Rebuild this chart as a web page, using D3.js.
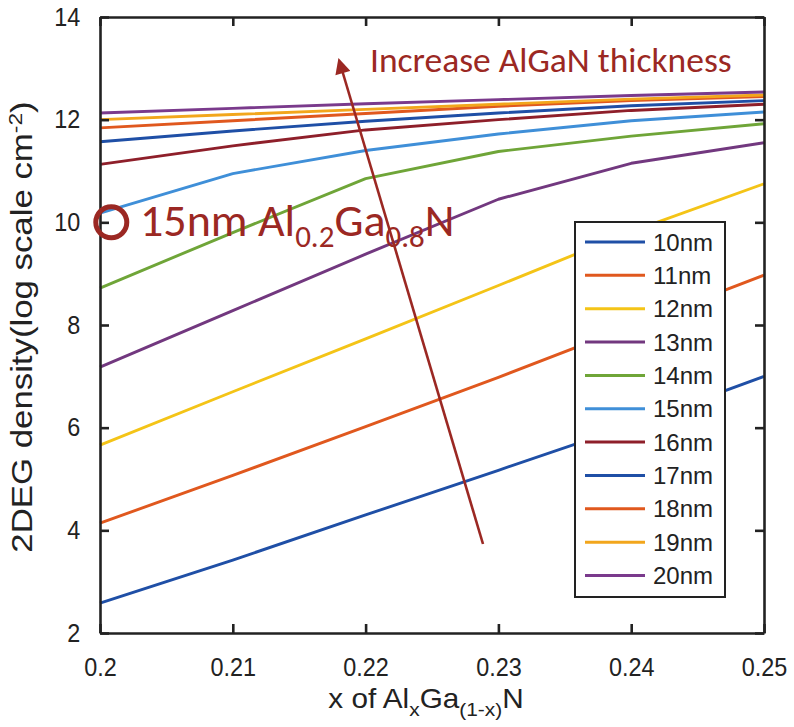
<!DOCTYPE html>
<html>
<head>
<meta charset="utf-8">
<script src="https://cdn.jsdelivr.net/npm/d3@7"></script>
<style>
  html, body { margin: 0; padding: 0; background: #fff; }
  svg { display: block; }
</style>
</head>
<body>
<svg id="chart" width="794" height="727"></svg>
<script>
// Al mole fraction x of the AlGaN barrier
const xValues = [0.20, 0.21, 0.22, 0.23, 0.24, 0.25];

// 2DEG density (log scale) for each barrier thickness
const n10 = [2.58, 3.42, 4.30, 5.17, 6.05, 7.00];
const n11 = [4.14, 5.07, 6.02, 6.98, 7.98, 8.97];
const n12 = [5.66, 6.70, 7.73, 8.77, 9.82, 10.75];
const n13 = [7.18, 8.28, 9.38, 10.45, 11.15, 11.55];
const n14 = [8.72, 9.80, 10.85, 11.38, 11.68, 11.92];
const n15 = [10.18, 10.95, 11.40, 11.72, 11.98, 12.15];
const n16 = [11.13, 11.49, 11.80, 12.00, 12.18, 12.30];
const n17 = [11.57, 11.78, 11.97, 12.13, 12.27, 12.37];
const n18 = [11.84, 11.98, 12.12, 12.26, 12.37, 12.45];
const n19 = [12.00, 12.10, 12.20, 12.30, 12.40, 12.48];
const n20 = [12.13, 12.22, 12.31, 12.39, 12.47, 12.54];

const seriesNames = ["10nm", "11nm", "12nm", "13nm", "14nm", "15nm", "16nm", "17nm", "18nm", "19nm", "20nm"];
const seriesValues = [n10, n11, n12, n13, n14, n15, n16, n17, n18, n19, n20];
const seriesColors = ["#1f4fa6", "#e0581e", "#f4c417", "#72387f", "#6fa538", "#3f8fd8",
                      "#8e1f2a", "#1f4fa6", "#e0581e", "#f2a61c", "#7a3a8c"];

const xTicks = [0.20, 0.21, 0.22, 0.23, 0.24, 0.25];
const xTickLabels = ["0.2", "0.21", "0.22", "0.23", "0.24", "0.25"];
const yTicks = [2, 4, 6, 8, 10, 12, 14];

const svg = d3.select("#chart");
const plot = { left: 100, right: 764, top: 17, bottom: 633 };

const x = d3.scaleLinear().domain([0.20, 0.25]).range([plot.left, plot.right]);
const y = d3.scaleLinear().domain([2, 14]).range([plot.bottom, plot.top]);

svg.append("rect").attr("width", 794).attr("height", 727).attr("fill", "#fff");

// data lines
const line = d3.line().x((d, i) => x(xValues[i])).y(d => y(d));
svg.append("g").selectAll("path")
  .data(seriesValues)
  .join("path")
  .attr("d", d => line(d))
  .attr("fill", "none")
  .attr("stroke", (d, i) => seriesColors[i])
  .attr("stroke-width", 2.9)
  .attr("stroke-linejoin", "round");

// boxed axes with inward ticks
const axisFont = "'Liberation Sans', Arial, sans-serif";
const tickLen = 9;
function styleAxis(g) {
  g.selectAll(".domain").attr("stroke", "#222").attr("stroke-width", 2.6);
  g.selectAll(".tick line").attr("stroke", "#222").attr("stroke-width", 2.6);
  g.selectAll("text").attr("fill", "#222").style("font-family", axisFont);
}

svg.append("g")
  .attr("transform", `translate(0,${plot.bottom})`)
  .call(d3.axisBottom(x).tickValues(xTicks).tickSizeInner(-tickLen).tickSizeOuter(0)
        .tickPadding(25).tickFormat((d, i) => xTickLabels[i]))
  .call(styleAxis)
  .call(g => g.selectAll("text").style("font-size", "26px").attr("transform", "scale(0.9,1)"));

svg.append("g")
  .attr("transform", `translate(0,${plot.top})`)
  .call(d3.axisTop(x).tickValues(xTicks).tickSizeInner(-tickLen).tickSizeOuter(0).tickFormat(""))
  .call(styleAxis);

svg.append("g")
  .attr("transform", `translate(${plot.left},0)`)
  .call(d3.axisLeft(y).tickValues(yTicks).tickSizeInner(-tickLen).tickSizeOuter(0)
        .tickPadding(22).tickFormat(d3.format("d")))
  .call(styleAxis)
  .call(g => g.selectAll("text").style("font-size", "26px").attr("transform", "scale(0.9,1)"));

svg.append("g")
  .attr("transform", `translate(${plot.right},0)`)
  .call(d3.axisRight(y).tickValues(yTicks).tickSizeInner(-tickLen).tickSizeOuter(0).tickFormat(""))
  .call(styleAxis);

// axis titles
const xTitle = svg.append("text")
  .attr("transform", "translate(426,708) scale(1.1,1)")
  .attr("text-anchor", "middle")
  .style("font-family", axisFont).style("font-size", "27px").attr("fill", "#222");
xTitle.append("tspan").text("x of Al");
xTitle.append("tspan").attr("dy", 8).style("font-size", "19px").text("x");
xTitle.append("tspan").attr("dy", -8).text("Ga");
xTitle.append("tspan").attr("dy", 8).style("font-size", "19px").text("(1-x)");
xTitle.append("tspan").attr("dy", -8).text("N");

const yTitle = svg.append("text")
  .attr("transform", "translate(32,327) rotate(-90) scale(1.2,1)")
  .attr("text-anchor", "middle")
  .style("font-family", axisFont).style("font-size", "29px").attr("fill", "#222");
yTitle.append("tspan").text("2DEG density(log scale cm");
yTitle.append("tspan").attr("dy", -10).style("font-size", "19px").text("-2");
yTitle.append("tspan").attr("dy", 10).text(")");

// legend
const legend = svg.append("g");
legend.append("rect")
  .attr("x", 575).attr("y", 222).attr("width", 150).attr("height", 375)
  .attr("fill", "#fff").attr("stroke", "#222").attr("stroke-width", 2);
const rowY = d3.scaleLinear().domain([0, seriesNames.length - 1]).range([242, 575.5]);
const rows = legend.selectAll("g.row").data(seriesNames).join("g")
  .attr("class", "row")
  .attr("transform", (d, i) => `translate(0,${rowY(i)})`);
rows.append("line")
  .attr("x1", 585).attr("x2", 645)
  .attr("stroke", (d, i) => seriesColors[i]).attr("stroke-width", 3);
rows.append("text")
  .attr("x", 653).attr("dy", "0.36em")
  .style("font-family", axisFont).style("font-size", "24px").attr("fill", "#222")
  .text(d => d);

// annotations
const accent = "#9b2823";
const noteFont = "Carlito, Lato, 'Open Sans', sans-serif";

svg.append("circle")
  .attr("cx", x(0.20085)).attr("cy", y(10))
  .attr("r", 15.5)
  .attr("fill", "none").attr("stroke", accent).attr("stroke-width", 5);

const note = svg.append("text")
  .attr("x", 140).attr("y", 236)
  .style("font-family", noteFont).style("font-size", "46px").attr("fill", accent);
note.append("tspan").text("15nm Al");
note.append("tspan").attr("dy", 11).style("font-size", "31px").text("0.2");
note.append("tspan").attr("dy", -11).text("Ga");
note.append("tspan").attr("dy", 11).style("font-size", "31px").text("0.8");
note.append("tspan").attr("dy", -11).text("N");

svg.append("text")
  .attr("x", 370).attr("y", 72)
  .style("font-family", noteFont).style("font-size", "35.5px").attr("fill", accent)
  .text("Increase AlGaN thickness");

// thickness trend arrow
const defs = svg.append("defs");
defs.append("marker")
  .attr("id", "head").attr("viewBox", "0 0 10 10")
  .attr("refX", 2).attr("refY", 5)
  .attr("markerWidth", 6.5).attr("markerHeight", 6)
  .attr("markerUnits", "strokeWidth")
  .attr("orient", "auto")
  .append("path").attr("d", "M0,0 L10,5 L0,10 z").attr("fill", accent);

svg.append("line")
  .attr("x1", 483).attr("y1", 544)
  .attr("x2", 342).attr("y2", 70)
  .attr("stroke", accent).attr("stroke-width", 2.6)
  .attr("marker-end", "url(#head)");
</script>
</body>
</html>
